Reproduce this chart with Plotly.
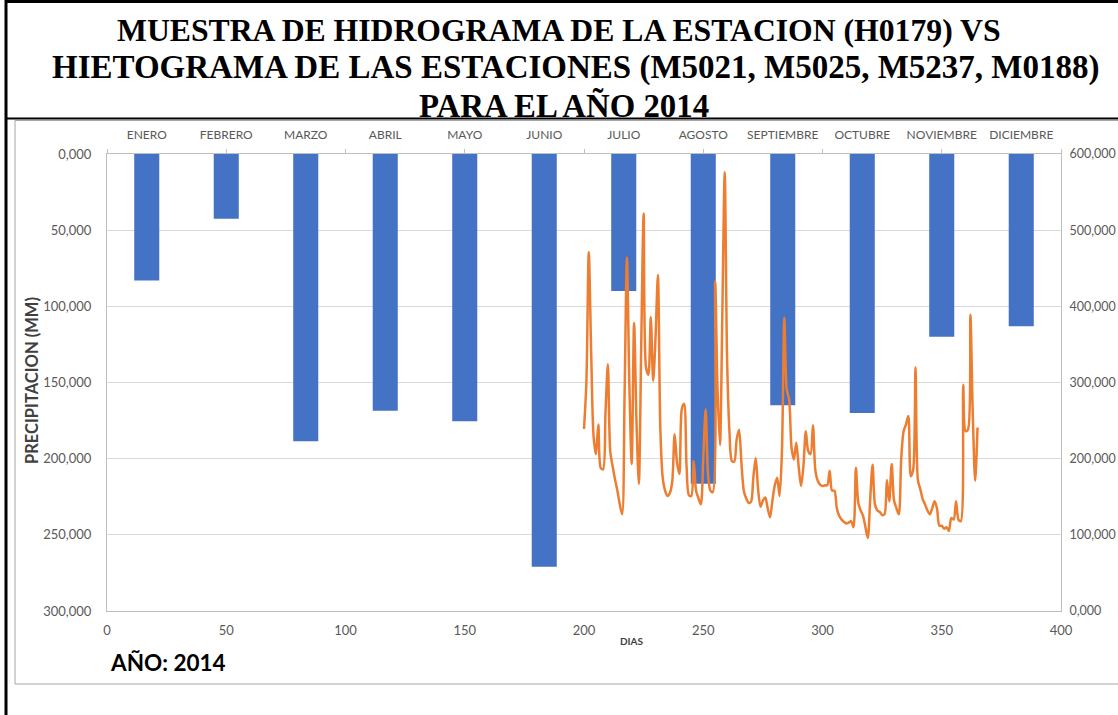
import plotly.graph_objects as go

# ---------------- data ----------------
months = ["ENERO", "FEBRERO", "MARZO", "ABRIL", "MAYO", "JUNIO", "JULIO",
          "AGOSTO", "SEPTIEMBRE", "OCTUBRE", "NOVIEMBRE", "DICIEMBRE"]
precip_mm = [83.0, 42.5, 188.5, 168.5, 175.5, 271.0, 90.0,
             216.5, 165.0, 170.0, 120.0, 113.0]

first_day = 200
flow = [
    239, 300, 471, 340, 230, 206, 245, 188, 186, 260,
    324, 210, 190, 173, 158, 140, 127, 280, 464, 300,
    193, 378, 250, 167, 350, 522, 320, 310, 386, 302,
    360, 441, 240, 175, 158, 151, 155, 170, 232, 195,
    180, 265, 272, 190, 152, 151, 197, 158, 148, 140,
    200, 265, 180, 158, 156, 433, 290, 218, 390, 576,
    330, 235, 197, 196, 225, 238, 195, 158, 148, 142,
    143, 175, 201, 160, 137, 145, 149, 135, 123, 145,
    165, 175, 151, 210, 385, 291, 278, 215, 199, 221,
    190, 164, 190, 236, 210, 206, 244, 185, 171, 166,
    164, 165, 165, 184, 158, 158, 135, 125, 120, 117,
    115, 116, 118, 110, 188, 142, 132, 125, 110, 96,
    147, 192, 140, 132, 130, 126, 127, 172, 144, 193,
    145, 135, 127, 200, 236, 245, 256, 177, 185, 320,
    172, 160, 147, 140, 132, 127, 135, 144, 135, 112,
    112, 108, 110, 105, 122, 120, 144, 120, 118, 297,
    236, 238, 389, 260, 171, 241,
]
days = list(range(first_day, first_day + len(flow)))

x_ticks = [0, 50, 100, 150, 200, 250, 300, 350, 400]
left_ticks = [0, 50, 100, 150, 200, 250, 300]
right_ticks = [0, 100, 200, 300, 400, 500, 600]

title_lines = ["MUESTRA DE HIDROGRAMA DE LA ESTACION (H0179) VS",
               "HIETOGRAMA DE LAS ESTACIONES (M5021, M5025, M5237, M0188)",
               "PARA EL AÑO 2014"]

# ---------------- layout helpers ----------------
W, H = 1118, 715
PL, PR, PT, PB = 107, 1061, 154, 611


def fx(px):
    return (px - PL) / (PR - PL)


def fy(py):
    return (PB - py) / (PB - PT)


FONT = "Lato"
TICKC = "#595959"
GRID = "#D9D9D9"
AXL = "#BFBFBF"

fig = go.Figure()

# bars on the main subplot (category axis on top, reversed left axis)
fig.add_trace(go.Bar(
    x=months, y=precip_mm, xaxis="x", yaxis="y",
    marker=dict(color="#4472C4", line=dict(width=0)),
    name="Precipitación",
))

# hydrograph on the overlaid numeric axes
fig.add_trace(go.Scatter(
    x=days, y=flow, xaxis="x2", yaxis="y2", mode="lines",
    line=dict(color="#ED7D31", width=2.5, shape="spline", smoothing=0.8),
    name="Caudal",
))

# empty trace so the top tick axis is rendered
fig.add_trace(go.Scatter(x=[], y=[], xaxis="x3", yaxis="y2",
                         mode="lines", showlegend=False, hoverinfo="skip"))

fig.update_layout(
    width=W, height=H,
    margin=dict(l=PL, r=W - PR, t=PT, b=H - PB, pad=0),
    paper_bgcolor="white", plot_bgcolor="white",
    showlegend=False,
    separators=",.",
    bargap=0.685,
    font=dict(family=FONT, color=TICKC, size=12),
    xaxis=dict(
        side="top", type="category", automargin=False,
        range=[-0.5, 11.5], showgrid=False, zeroline=False, showline=False,
        ticks="outside", ticklen=9, tickcolor="rgba(0,0,0,0)",
        tickfont=dict(family=FONT, size=12, color=TICKC),
    ),
    xaxis2=dict(
        overlaying="x", side="bottom", automargin=False,
        range=[0, 400], tickvals=x_ticks, ticktext=[str(v) for v in x_ticks],
        showgrid=False, zeroline=False,
        showline=True, linecolor=AXL, linewidth=1,
        ticks="outside", ticklen=7, tickcolor="rgba(0,0,0,0)",
        tickfont=dict(family=FONT, size=13, color=TICKC),
    ),
    xaxis3=dict(
        overlaying="x", side="top", range=[0, 400], tickvals=x_ticks,
        automargin=False,
        showticklabels=False, showgrid=False, zeroline=False,
        showline=True, linecolor=AXL, linewidth=1,
        ticks="outside", ticklen=4, tickcolor=AXL, tickwidth=1,
    ),
    yaxis=dict(
        range=[300, 0], tickvals=left_ticks, tickformat=",.3f",
        automargin=False,
        showgrid=True, gridcolor=GRID, gridwidth=1, zeroline=False,
        showline=True, linecolor=AXL, linewidth=1,
        ticks="outside", ticklen=12, tickcolor="rgba(0,0,0,0)",
        tickfont=dict(family=FONT, size=13, color=TICKC),
    ),
    yaxis2=dict(
        overlaying="y", side="right", range=[0, 600], tickvals=right_ticks,
        automargin=False,
        tickformat=",.3f", showgrid=False, zeroline=False,
        showline=True, linecolor=AXL, linewidth=1,
        ticks="outside", ticklen=5, tickcolor="rgba(0,0,0,0)",
        tickfont=dict(family=FONT, size=12.5, color=TICKC),
    ),
)

shapes = [
    # chart area border (gray)
    dict(type="rect", xref="paper", yref="paper",
         x0=fx(15), x1=fx(1135), y0=fy(684), y1=fy(120.5),
         line=dict(color="#A6A6A6", width=1), fillcolor="rgba(0,0,0,0)"),
    # outer black frame
    dict(type="line", xref="paper", yref="paper",
         x0=fx(6), x1=fx(6), y0=fy(0), y1=fy(715),
         line=dict(color="black", width=3)),
    dict(type="line", xref="paper", yref="paper",
         x0=fx(5), x1=fx(1125), y0=fy(1.5), y1=fy(1.5),
         line=dict(color="black", width=3)),
    dict(type="line", xref="paper", yref="paper",
         x0=fx(5), x1=fx(1125), y0=fy(118.5), y1=fy(118.5),
         line=dict(color="black", width=2)),
]
fig.update_layout(shapes=shapes)

annotations = []
for line_text, xc, yc, fs in zip(title_lines, [558.5, 576, 563.5],
                                 [30, 68, 106], [31.7, 33, 32.8]):
    annotations.append(dict(
        text="<b>" + line_text + "</b>",
        xref="paper", yref="paper", x=fx(xc), y=fy(yc),
        xanchor="center", yanchor="middle", showarrow=False,
        font=dict(family="Liberation Serif", size=fs, color="black")))

annotations += [
    dict(text="<b>PRECIPITACION (MM)</b>", xref="paper", yref="paper",
         x=fx(32), y=fy(381), textangle=-90, showarrow=False,
         xanchor="center", yanchor="middle",
         font=dict(family=FONT, size=16.5, color="#404040")),
    dict(text="<b>DIAS</b>", xref="paper", yref="paper",
         x=fx(632), y=fy(641), showarrow=False,
         xanchor="center", yanchor="middle",
         font=dict(family=FONT, size=10, color="#404040")),
    dict(text="<b>AÑO: 2014</b>", xref="paper", yref="paper",
         x=fx(108), y=fy(662), showarrow=False,
         xanchor="left", yanchor="middle",
         font=dict(family=FONT, size=22.5, color="black")),
]
fig.update_layout(annotations=annotations)

fig.write_html(
    "out.html",
    config={"displayModeBar": False},
    post_script="document.body.style.margin='0px';"
                "document.body.style.overflow='hidden';",
)
